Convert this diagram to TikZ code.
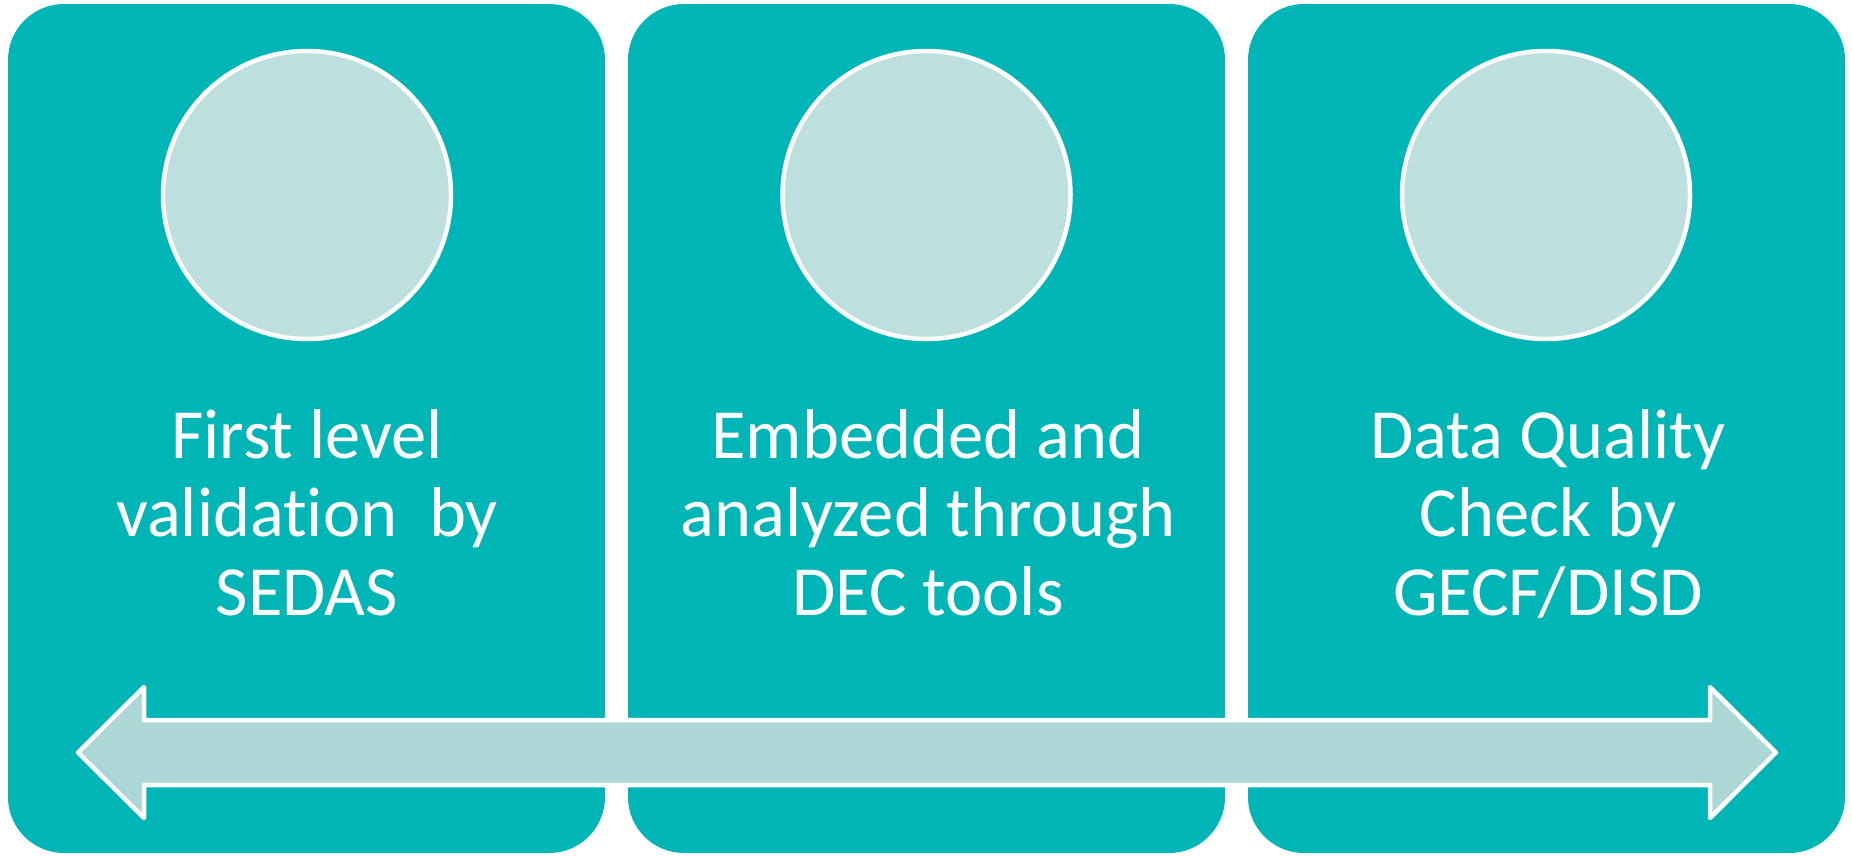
\documentclass[tikz,border=0pt]{standalone}
\usepackage{fontspec}
\setmainfont{Carlito}[Ligatures=NoCommon]
\definecolor{teal1}{HTML}{00B5B5}
\definecolor{circ}{HTML}{BDDFDD}
\definecolor{arrowc}{HTML}{ADD7D6}
\newcommand{\topstrut}{\rule{0pt}{50pt}}
\newcommand{\botstrut}{\rule[-50pt]{0pt}{50pt}}
\begin{document}
\begin{tikzpicture}[x=1pt,y=-1pt,
  panel/.style={fill=teal1,draw=none,rounded corners=56pt},
  disc/.style={circle,fill=circ,draw=white,line width=4.5pt,minimum size=288pt,inner sep=0pt},
  label/.style={text=white,align=center,font=\fontsize{70.5}{78.3}\selectfont,inner sep=0pt}]
\useasboundingbox (0,0) rectangle (1852,855);
\fill[white] (0,0) rectangle (1852,855);
\path[panel] (8,4) rectangle (605,853);
\path[panel] (628,4) rectangle (1225,853);
\path[panel] (1248,4) rectangle (1845,853);
\node[disc] (c1) at (307,195) {};
\node[disc] (c2) at (926.5,195) {};
\node[disc] (c3) at (1546,195) {};
\node[label] (t1) at (307,536.7) {\topstrut First level\\validation\ \ by\\SEDAS\botstrut};
\node[label] (t2) at (928,536.7) {\topstrut Embedded and\\analyzed through\\DEC tools\botstrut};
\node[label] (t3) at (1548,536.7) {\topstrut Data Quality\\Check by\\GECF/DISD\botstrut};
\draw[fill=arrowc,draw=white,line width=4.5pt,line join=round]
  (78,752.5) -- (144,687) -- (144,720) -- (1710,720) -- (1710,687) -- (1776,752.5)
  -- (1710,818) -- (1710,785) -- (144,785) -- (144,818) -- cycle;
\end{tikzpicture}
\end{document}
